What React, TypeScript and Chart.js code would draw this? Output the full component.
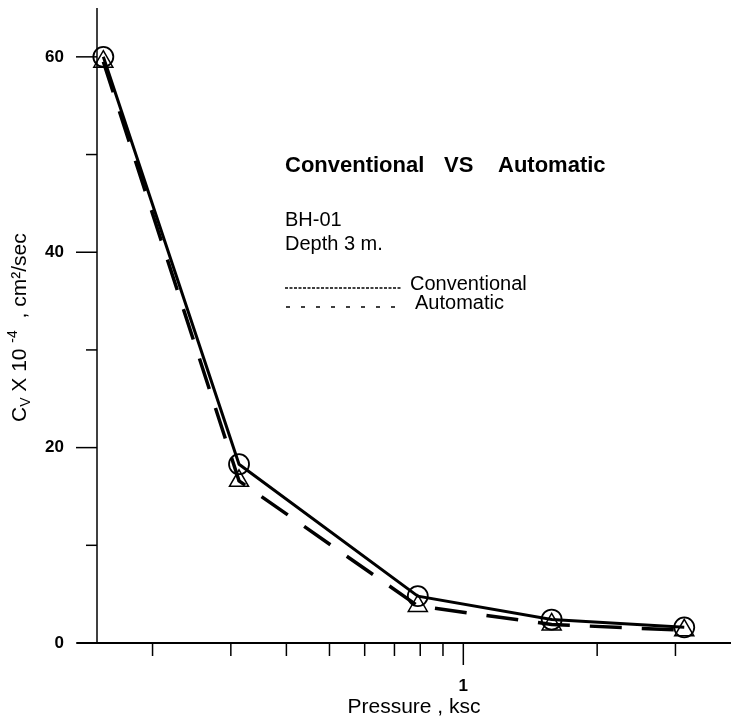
import React, { useEffect, useRef } from 'react';
import { Chart, registerables } from 'chart.js';

Chart.register(...registerables);

// ---- data ----
const pressure = [0.155, 0.313, 0.79, 1.58, 3.14];
const conventional = [60, 18.3, 4.8, 2.4, 1.6];
const automatic = [59.5, 16.6, 3.8, 1.9, 1.3];

const yMajorTicks = [0, 20, 40, 60];
const yMinorTicks = [10, 30, 50];
const xMajorTicks = [1];
const xMinorTicks = [0.2, 0.3, 0.4, 0.5, 0.6, 0.7, 0.8, 0.9, 2, 3];

const chartTitle = ['Conventional', 'VS', 'Automatic'];
const noteLines = ['BH-01', 'Depth 3 m.'];
const seriesNames = ['Conventional', 'Automatic'];
const xTitle = 'Pressure , ksc';

const FONT = '"Liberation Sans", Arial, Helvetica, sans-serif';

const decorPlugin = {
  id: 'decor',
  beforeDatasetsDraw(chart: any) {
    const { ctx, chartArea: a } = chart;
    const xs = chart.scales.x;
    const ys = chart.scales.y;
    ctx.save();
    ctx.strokeStyle = '#000';
    ctx.setLineDash([]);
    ctx.lineWidth = 1.5;
    ctx.beginPath();
    ctx.moveTo(a.left, a.top);
    ctx.lineTo(a.left, a.bottom);
    ctx.stroke();
    ctx.lineWidth = 2;
    ctx.beginPath();
    ctx.moveTo(a.left - 20, a.bottom);
    ctx.lineTo(a.right, a.bottom);
    ctx.stroke();
    ctx.lineWidth = 1.5;
    yMajorTicks.forEach((v) => {
      const y = ys.getPixelForValue(v);
      ctx.beginPath();
      ctx.moveTo(a.left - 21, y);
      ctx.lineTo(a.left, y);
      ctx.stroke();
    });
    yMinorTicks.forEach((v) => {
      const y = ys.getPixelForValue(v);
      ctx.beginPath();
      ctx.moveTo(a.left - 11, y);
      ctx.lineTo(a.left, y);
      ctx.stroke();
    });
    xMinorTicks.forEach((v) => {
      const x = xs.getPixelForValue(v);
      ctx.beginPath();
      ctx.moveTo(x, a.bottom);
      ctx.lineTo(x, a.bottom + 13);
      ctx.stroke();
    });
    xMajorTicks.forEach((v) => {
      const x = xs.getPixelForValue(v);
      ctx.beginPath();
      ctx.moveTo(x, a.bottom);
      ctx.lineTo(x, a.bottom + 22);
      ctx.stroke();
    });
    ctx.restore();
  },
  afterDraw(chart: any) {
    const { ctx, chartArea: a } = chart;
    const xs = chart.scales.x;
    const ys = chart.scales.y;
    ctx.save();
    ctx.fillStyle = '#000';
    ctx.strokeStyle = '#000';

    ctx.font = `bold 17px ${FONT}`;
    ctx.textAlign = 'right';
    ctx.textBaseline = 'middle';
    yMajorTicks.forEach((v) => ctx.fillText(String(v), 64, ys.getPixelForValue(v)));

    ctx.textAlign = 'center';
    xMajorTicks.forEach((v) => ctx.fillText(String(v), xs.getPixelForValue(v), 686));

    ctx.font = `21px ${FONT}`;
    ctx.fillText(xTitle, (a.left + a.right) / 2, 707);

    ctx.save();
    ctx.translate(26, 422);
    ctx.rotate(-Math.PI / 2);
    ctx.textAlign = 'left';
    ctx.textBaseline = 'alphabetic';
    let cx = 0;
    const piece = (t: string, size: number, dy: number) => {
      ctx.font = `${size}px ${FONT}`;
      ctx.fillText(t, cx, dy);
      cx += ctx.measureText(t).width;
    };
    piece('C', 21, 0);
    piece('V', 14, 4);
    piece(' X 10 ', 21, 0);
    piece('-4', 14, -9);
    piece('  , cm²/sec', 21, 0);
    ctx.restore();

    ctx.textAlign = 'left';
    ctx.textBaseline = 'alphabetic';
    ctx.font = `bold 22px ${FONT}`;
    ctx.fillText(chartTitle[0], 285, 172);
    ctx.fillText(chartTitle[1], 444, 172);
    ctx.fillText(chartTitle[2], 498, 172);

    ctx.font = `20px ${FONT}`;
    ctx.fillText(noteLines[0], 285, 226);
    ctx.fillText(noteLines[1], 285, 250);

    ctx.lineWidth = 1.3;
    ctx.setLineDash([3, 1.5]);
    ctx.beginPath();
    ctx.moveTo(285, 288);
    ctx.lineTo(401, 288);
    ctx.stroke();
    ctx.setLineDash([4, 11]);
    ctx.beginPath();
    ctx.moveTo(286, 307);
    ctx.lineTo(406, 307);
    ctx.stroke();
    ctx.setLineDash([]);
    ctx.fillText(seriesNames[0], 410, 290);
    ctx.fillText(seriesNames[1], 415, 309);

    ctx.restore();
  },
};

export default function App() {
  const ref = useRef<HTMLCanvasElement>(null);
  useEffect(() => {
    document.body.style.margin = '0';
    const canvas = ref.current;
    if (!canvas) return;
    const chart = new Chart(canvas, {
      type: 'scatter',
      data: {
        datasets: [
          {
            label: seriesNames[1],
            data: pressure.map((x, i) => ({ x, y: automatic[i] })),
            showLine: true,
            borderColor: '#000',
            borderWidth: 3.5,
            borderDash: [32, 20],
            pointStyle: 'triangle',
            pointRadius: 11,
            pointBorderWidth: 1.5,
            pointBorderColor: '#000',
            pointBackgroundColor: 'rgba(0,0,0,0)',
            clip: false,
          } as any,
          {
            label: seriesNames[0],
            data: pressure.map((x, i) => ({ x, y: conventional[i] })),
            showLine: true,
            borderColor: '#000',
            borderWidth: 3,
            pointStyle: 'circle',
            pointRadius: 10,
            pointBorderWidth: 1.8,
            pointBorderColor: '#000',
            pointBackgroundColor: 'rgba(0,0,0,0)',
            clip: false,
          } as any,
        ],
      },
      options: {
        responsive: false,
        maintainAspectRatio: false,
        animation: false,
        devicePixelRatio: 1,
        layout: { padding: { left: 97, top: 8, right: 0, bottom: 78 }, autoPadding: false },
        plugins: { legend: { display: false }, tooltip: { enabled: false } },
        scales: {
          x: { type: 'logarithmic', min: 0.15, max: 4, display: false },
          y: { type: 'linear', min: 0, max: 65, display: false },
        },
      } as any,
      plugins: [decorPlugin],
    });
    return () => chart.destroy();
  }, []);
  return (
    <div style={{ width: 731, height: 721 }}>
      <canvas ref={ref} width={731} height={721} style={{ display: 'block' }} />
    </div>
  );
}
